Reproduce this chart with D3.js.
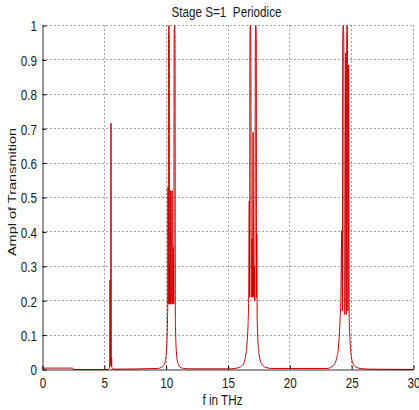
<!DOCTYPE html>
<html>
<head>
<meta charset="utf-8">
<script src="https://cdn.jsdelivr.net/npm/d3@7"></script>
<style>
  html, body { margin: 0; padding: 0; background: #fff; }
  svg { display: block; }
  text { font-family: "Liberation Sans", Arial, sans-serif; fill: #1a1a1a; white-space: pre; }
</style>
</head>
<body>
<svg id="chart" width="419" height="410"></svg>
<script>
// Transmission spectrum, stage S=1 (frequency in THz, amplitude 0..1)
const freq = [
  0, 2.45, 2.5, 5.3,
  5.38, 5.43, 5.46, 5.49, 5.50, 5.54, 5.57, 5.59, 5.61, 5.7,
  9.3, 9.6, 9.8, 9.9, 9.98, 10.04, 10.08, 10.11, 10.13, 10.15, 10.17,
  10.19, 10.22, 10.25, 10.27,
  10.30, 10.33, 10.37, 10.40, 10.44, 10.48, 10.51, 10.55, 10.59, 10.62,
  10.645, 10.68, 10.715, 10.74,
  10.77, 10.81, 10.86, 10.95, 11.05, 11.3, 11.8,
  15.3, 15.8, 16.1, 16.3, 16.45, 16.55, 16.62, 16.67, 16.72, 16.75,
  16.775, 16.81, 16.845, 16.88,
  16.92, 16.95, 16.98, 17.03, 17.07, 17.11, 17.14, 17.17,
  17.215, 17.25, 17.285, 17.305, 17.33, 17.36,
  17.41, 17.48, 17.58, 17.75, 18.0, 18.5,
  23.0, 23.4, 23.65, 23.8, 23.92, 24.0, 24.07, 24.12, 24.2, 24.25,
  24.28, 24.32, 24.36, 24.41,
  24.46, 24.52, 24.57, 24.6, 24.63, 24.66, 24.69, 24.72, 24.76, 24.8,
  24.86, 24.93, 25.02, 25.15, 25.35, 25.7, 26.5, 30
];
const ampl = [
  0.004, 0.004, 0, 0,
  0.002, 0.01, 0.26, 0.01, 0.01, 0.716, 0.01, 0.035, 0.005, 0.001,
  0.003, 0.006, 0.012, 0.02, 0.035, 0.06, 0.1, 0.15, 0.2, 0.53, 0.19,
  0.97, 1.0, 0.97, 0.19,
  0.3, 0.19, 0.52, 0.19, 0.22, 0.52, 0.19, 0.2, 0.355, 0.19,
  0.97, 1.0, 0.97, 0.17,
  0.1, 0.06, 0.035, 0.018, 0.01, 0.004, 0.002,
  0.002, 0.005, 0.01, 0.02, 0.045, 0.08, 0.13, 0.2, 0.49, 0.21,
  0.97, 1.0, 0.97, 0.21,
  0.22, 0.38, 0.21, 0.69, 0.21, 0.22, 0.3, 0.2,
  0.97, 1.0, 0.97, 0.21, 0.394, 0.15,
  0.09, 0.055, 0.03, 0.015, 0.007, 0.003,
  0.003, 0.008, 0.018, 0.035, 0.06, 0.1, 0.15, 0.2, 0.404, 0.17,
  0.97, 1.0, 0.97, 0.16,
  0.18, 0.92, 0.16, 0.97, 1.0, 0.97, 0.17, 0.2, 0.885, 0.15,
  0.09, 0.05, 0.028, 0.014, 0.007, 0.003, 0.001, 0
];
const xTicks = [0, 5, 10, 15, 20, 25, 30];
const yTicks = [0, 0.1, 0.2, 0.3, 0.4, 0.5, 0.6, 0.7, 0.8, 0.9, 1];
const titleText = "Stage S=1  Periodice";
const xLabel = "f in THz";
const yLabel = "Ampl of Transmition";

const squeeze = 0.78;           // narrow glyph width
const svg = d3.select("#chart");
const plotL = 42.5, plotR = 413.5, plotT = 25.5, plotB = 369.5;

const x = d3.scaleLinear().domain([0, 30]).range([plotL, plotR]);
const y = d3.scaleLinear().domain([0, 1]).range([plotB, plotT]);

// dotted grid
const grid = svg.append("g").attr("stroke", "#000").attr("stroke-width", 1)
  .attr("stroke-dasharray", "1 3").attr("opacity", 0.7);
grid.selectAll("line.v").data(xTicks.slice(1)).join("line")
  .attr("x1", d => Math.round(x(d) - 0.5) + 0.5).attr("x2", d => Math.round(x(d) - 0.5) + 0.5)
  .attr("y1", plotT).attr("y2", plotB);
grid.selectAll("line.h").data(yTicks.slice(1)).join("line")
  .attr("y1", d => Math.round(y(d) - 0.5) + 0.5).attr("y2", d => Math.round(y(d) - 0.5) + 0.5)
  .attr("x1", plotL).attr("x2", plotR);

// curve
const pts = freq.map((f, i) => [f, ampl[i]]);
svg.append("clipPath").attr("id", "plotclip").append("rect")
  .attr("x", plotL).attr("y", plotT - 0.5).attr("width", plotR - plotL + 1).attr("height", plotB - plotT + 1);
svg.append("path").datum(pts)
  .attr("clip-path", "url(#plotclip)")
  .attr("fill", "none").attr("stroke", "#cc0000").attr("stroke-width", 1)
  .attr("d", d3.line().x(d => x(d[0])).y(d => y(d[1])).curve(d3.curveMonotoneX));

// axes
const xAxis = svg.append("g").attr("transform", `translate(0,${plotB})`)
  .call(d3.axisBottom(x).tickValues(xTicks).tickSizeInner(-4).tickSizeOuter(0).tickFormat(d3.format("d")));
const yAxis = svg.append("g").attr("transform", `translate(${plotL},0)`)
  .call(d3.axisLeft(y).tickValues(yTicks).tickSizeInner(-4).tickSizeOuter(0).tickFormat(d => d === 0 || d === 1 ? String(d) : d3.format(".1f")(d)));
[xAxis, yAxis].forEach(a => {
  a.select(".domain").attr("stroke", "#000").attr("opacity", 0.8);
  a.selectAll(".tick line").attr("stroke", "#000");
  a.selectAll(".tick text").attr("font-size", 15).attr("font-family", null).attr("fill", "#262626");
});
xAxis.selectAll(".tick text").attr("y", 19).attr("dy", null).attr("transform", `scale(${squeeze},1)`);
yAxis.selectAll(".tick text").attr("x", -5.5 / squeeze).attr("dy", "0.36em").attr("transform", `scale(${squeeze},1)`);

// title and axis labels
svg.append("text").attr("transform", `translate(226.5,17) scale(${squeeze},1)`)
  .attr("text-anchor", "middle").attr("font-size", 15).text(titleText);
svg.append("text").attr("transform", `translate(222.5,405) scale(${squeeze},1)`)
  .attr("text-anchor", "middle").attr("font-size", 15).text(xLabel);
svg.append("text").attr("transform", `translate(16,192) rotate(-90) scale(1,${squeeze})`)
  .attr("text-anchor", "middle").attr("font-size", 14.5).text(yLabel);
</script>
</body>
</html>
